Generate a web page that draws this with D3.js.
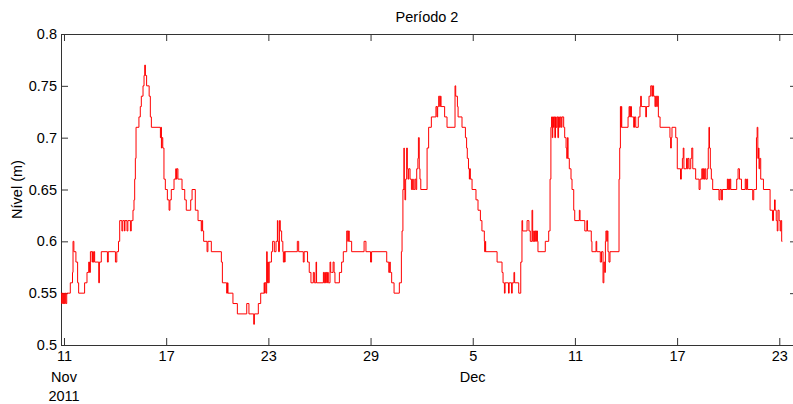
<!DOCTYPE html>
<html>
<head>
<meta charset="utf-8">
<script src="https://cdn.jsdelivr.net/npm/d3@7"></script>
<style>
  body { margin: 0; background: #fff; }
  svg { display: block; font-family: "Liberation Sans", Arial, sans-serif; }
  .axis { font-family: "Liberation Sans", Arial, sans-serif; }
  .axis path, .axis line { stroke: #333; }
  .axis text { fill: #000; font-size: 14.5px; }
</style>
</head>
<body>
<div id="chart"></div>
<script>
// day offset from 11 Nov 2011 00:00 and water level (m)
var startDate = new Date(2011, 10, 11);
var dayOffset = [
  -0.18, -0.14, -0.10, -0.06, -0.02, 0.02, 0.06, 0.10, 0.16, 0.37, 0.50, 0.53, 0.58, 0.70, 0.80, 0.86,
  1.21, 1.35, 1.45, 1.50, 1.55, 1.65, 1.68, 1.72, 1.76, 1.80, 2.04, 2.08, 2.19, 2.55, 2.60, 3.02, 3.10,
  3.20, 3.27, 3.40, 3.45, 3.55, 3.58, 3.70, 3.75, 3.90, 3.95, 4.05, 4.11, 4.15, 4.19, 4.23, 4.40, 4.48,
  4.54, 4.64, 4.70, 4.74, 4.78, 4.85, 5.00, 5.07, 5.13, 5.66, 5.70, 5.72, 5.75, 5.80, 5.87, 5.95, 6.07,
  6.17, 6.22, 6.30, 6.46, 6.56, 6.60, 6.63, 6.69, 6.93, 7.09, 7.18, 7.44, 7.52, 7.71, 7.87, 8.06, 8.10,
  8.14, 8.20, 8.40, 8.45, 8.65, 9.24, 9.30, 9.55, 9.60, 9.63, 9.92, 10.18,
  10.73, 10.86, 11.14, 11.18, 11.41, 11.55, 11.75, 11.78, 11.80, 11.86, 11.90, 11.93, 11.96, 12.00, 12.05,
  12.18, 12.25, 12.35, 12.45, 12.53, 12.56, 12.60, 12.65, 12.70, 12.78, 12.85, 12.88, 12.93, 12.96, 12.98,
  13.70, 13.78, 14.05, 14.10, 14.30, 14.40, 14.50, 14.64, 14.70, 14.80, 14.83, 15.23, 15.27, 15.31, 15.35,
  15.39, 15.43, 15.47, 15.52, 15.62, 15.66, 15.71, 15.80, 15.86, 15.91, 16.17, 16.30, 16.40, 16.60, 16.66,
  16.70, 16.75, 16.89, 17.62, 17.73, 18.00, 18.06, 18.95, 19.07, 19.12, 19.16, 19.24, 19.38, 19.69, 19.81,
  19.85, 19.90, 19.96, 19.98, 20.02, 20.06, 20.12, 20.16, 20.20, 20.24, 20.32, 20.40, 20.47, 20.51, 20.60,
  20.66, 20.71, 20.78, 20.81, 20.86, 20.90, 20.95,
  21.32, 21.41, 21.57, 21.84, 21.90, 21.94, 22.00, 22.06, 22.10, 22.14, 22.35, 22.49, 22.96, 23.00, 23.10,
  23.14, 23.37, 23.57, 23.64, 23.68, 23.75, 23.80, 23.82, 23.86, 23.96, 24.19, 24.31, 24.45, 24.54, 24.68,
  24.70, 24.74, 24.76, 25.43, 25.72, 25.78, 25.86, 25.90, 26.10, 26.14, 26.28, 26.32, 26.42, 26.46, 26.70,
  26.82, 26.89, 26.93, 27.19, 27.30, 27.38, 27.48, 27.52, 27.58, 27.62, 27.66, 27.70, 27.74, 27.80, 27.83,
  28.26, 28.46, 28.54, 28.59, 28.63, 28.67, 28.70, 28.74, 28.78, 28.82, 28.86, 28.90, 28.95, 29.00, 29.04,
  29.09, 29.14, 29.20, 29.24, 29.34, 29.40, 29.48, 29.52, 29.56, 29.60, 29.67, 29.77, 29.83, 29.93, 29.99,
  30.26, 30.30, 30.58, 30.70, 30.74, 30.96, 31.00, 31.24, 31.28, 31.49, 31.56, 31.65, 31.70,
  31.75, 31.79, 31.82, 31.87, 31.90, 31.94, 32.00, 32.06, 32.59, 32.63, 32.67, 32.70, 32.72, 32.75, 33.12,
  33.18, 33.22, 33.26, 33.32, 33.45, 33.50, 33.57, 33.72, 33.82, 33.86, 33.90, 34.16, 34.20, 34.35, 34.45,
  34.52, 34.56, 34.62, 34.70, 34.74, 34.80, 34.84, 34.90, 35.00, 35.58, 35.62, 35.66, 35.70, 35.92, 36.01,
  36.20, 36.25, 36.31, 36.36, 36.40, 36.55, 36.60, 36.64, 36.70, 36.80, 36.86, 36.92, 37.09, 37.29, 37.35,
  37.45, 37.50, 37.54, 37.58, 37.62, 37.68, 37.77, 37.83, 37.87, 37.90, 37.95, 38.01, 38.09, 38.46, 38.52,
  38.60, 38.66, 38.95, 38.99, 39.03, 39.07, 39.11, 39.15, 39.50, 39.58, 39.66, 39.78, 40.00, 40.05, 40.09,
  40.14, 40.44, 40.50, 40.66, 40.70, 40.74, 40.78, 40.81, 40.85, 40.91, 41.07, 41.46, 41.60, 41.66, 41.72,
  41.76, 41.82, 41.88, 41.92, 41.99, 42.05, 42.09, 42.14, 42.18
];
var nivel = [
  0.55, 0.54, 0.55, 0.54, 0.55, 0.54, 0.55, 0.54, 0.55, 0.56, 0.57, 0.60, 0.59, 0.58, 0.56, 0.55,
  0.56, 0.57, 0.58, 0.57, 0.59, 0.58, 0.59, 0.58, 0.59, 0.58, 0.56, 0.58, 0.59, 0.58, 0.59, 0.58, 0.59,
  0.60, 0.62, 0.61, 0.62, 0.61, 0.62, 0.61, 0.62, 0.61, 0.62, 0.63, 0.64, 0.66, 0.68, 0.71, 0.72, 0.73,
  0.74, 0.75, 0.76, 0.77, 0.76, 0.75, 0.74, 0.72, 0.71, 0.70, 0.71, 0.69, 0.70, 0.69, 0.66, 0.65, 0.64,
  0.63, 0.64, 0.65, 0.66, 0.67, 0.66, 0.67, 0.66, 0.65, 0.64, 0.63, 0.64, 0.65, 0.63, 0.62, 0.61, 0.62,
  0.61, 0.60, 0.59, 0.60, 0.59, 0.58, 0.56, 0.55, 0.56, 0.55, 0.54, 0.53,
  0.54, 0.53, 0.52, 0.53, 0.54, 0.55, 0.56, 0.55, 0.56, 0.55, 0.59, 0.56, 0.58, 0.56, 0.58,
  0.59, 0.60, 0.59, 0.60, 0.62, 0.60, 0.59, 0.62, 0.61, 0.60, 0.59, 0.58, 0.59, 0.58, 0.59,
  0.60, 0.59, 0.58, 0.59, 0.58, 0.57, 0.56, 0.57, 0.56, 0.58, 0.56, 0.57, 0.56, 0.57, 0.56,
  0.57, 0.56, 0.57, 0.56, 0.58, 0.57, 0.57, 0.58, 0.57, 0.56, 0.57, 0.58, 0.59, 0.61, 0.60,
  0.61, 0.60, 0.59, 0.60, 0.59, 0.58, 0.59, 0.58, 0.57, 0.58, 0.57, 0.56, 0.55, 0.56, 0.59,
  0.61, 0.65, 0.69, 0.65, 0.64, 0.66, 0.69, 0.67, 0.66, 0.67, 0.66, 0.65, 0.66, 0.65, 0.66,
  0.65, 0.67, 0.68, 0.70, 0.67, 0.66, 0.65,
  0.69, 0.71, 0.72, 0.73, 0.72, 0.73, 0.74, 0.73, 0.74, 0.73, 0.72, 0.71, 0.75, 0.74, 0.73,
  0.72, 0.71, 0.70, 0.69, 0.68, 0.67, 0.66, 0.67, 0.66, 0.65, 0.64, 0.63, 0.62, 0.61, 0.60,
  0.59, 0.60, 0.59, 0.58, 0.57, 0.56, 0.55, 0.56, 0.55, 0.56, 0.55, 0.56, 0.57, 0.56, 0.55,
  0.58, 0.62, 0.61, 0.62, 0.61, 0.60, 0.63, 0.60, 0.61, 0.60, 0.61, 0.60, 0.61, 0.60, 0.59,
  0.60, 0.61, 0.66, 0.71, 0.72, 0.70, 0.72, 0.71, 0.72, 0.70, 0.72, 0.71, 0.72, 0.70, 0.72,
  0.71, 0.72, 0.71, 0.72, 0.71, 0.70, 0.69, 0.68, 0.70, 0.68, 0.67, 0.66, 0.65, 0.63, 0.62,
  0.63, 0.62, 0.61, 0.62, 0.61, 0.60, 0.59, 0.60, 0.59, 0.58, 0.59, 0.56, 0.58,
  0.57, 0.60, 0.61, 0.60, 0.61, 0.59, 0.58, 0.59, 0.66, 0.69, 0.73, 0.71, 0.73, 0.71, 0.72,
  0.73, 0.72, 0.73, 0.72, 0.71, 0.72, 0.71, 0.72, 0.73, 0.74, 0.73, 0.72, 0.73, 0.74, 0.75,
  0.74, 0.75, 0.74, 0.73, 0.74, 0.73, 0.74, 0.72, 0.71, 0.70, 0.69, 0.70, 0.71, 0.70, 0.67,
  0.66, 0.67, 0.68, 0.69, 0.67, 0.68, 0.67, 0.68, 0.67, 0.68, 0.69, 0.67, 0.66, 0.65, 0.66,
  0.67, 0.66, 0.67, 0.66, 0.67, 0.66, 0.67, 0.69, 0.71, 0.69, 0.67, 0.66, 0.65, 0.64, 0.65,
  0.64, 0.65, 0.66, 0.65, 0.66, 0.65, 0.66, 0.65, 0.66, 0.67, 0.66, 0.65, 0.66, 0.65, 0.66,
  0.65, 0.64, 0.65, 0.70, 0.71, 0.68, 0.69, 0.67, 0.68, 0.66, 0.65, 0.63, 0.62, 0.63, 0.64,
  0.63, 0.62, 0.61, 0.63, 0.62, 0.61, 0.62, 0.60, 0.60
];
var xDomainDays = [-0.176, 43.04];
var yTicks = [0.5, 0.55, 0.6, 0.65, 0.7, 0.75, 0.8];
var tickDays = [0, 6, 12, 18, 24, 30, 36, 42];
var tickLabels = ["11", "17", "23", "29", "5", "11", "17", "23"];
var monthLabels = [{day: 0, text: "Nov"}, {day: 24, text: "Dec"}];
var yearLabel = {day: 0, text: "2011"};

var width = 793, height = 404,
    plotLeft = 61, plotRight = 797, plotTop = 34, plotBottom = 345,
    tickLen = 7, fontSize = 14.5;

function toDate(d) { return new Date(startDate.getTime() + d * 864e5); }

var data = dayOffset.map(function (d, i) { return {t: toDate(d), v: nivel[i]}; });

var svg = d3.select("#chart").append("svg")
    .attr("width", width)
    .attr("height", height);

var x = d3.scaleTime()
    .domain(xDomainDays.map(toDate))
    .range([plotLeft, plotRight]);
var y = d3.scaleLinear()
    .domain([0.5, 0.8])
    .range([plotBottom, plotTop]);

var tickDates = tickDays.map(toDate);

// bottom axis with day numbers
svg.append("g")
    .attr("class", "axis")
    .attr("transform", "translate(0," + plotBottom + ")")
    .call(d3.axisBottom(x).tickValues(tickDates).tickSize(-tickLen).tickSizeOuter(0).tickPadding(6)
        .tickFormat(function (d, i) { return tickLabels[i]; }));
// top axis, ticks only
svg.append("g")
    .attr("class", "axis")
    .attr("transform", "translate(0," + plotTop + ")")
    .call(d3.axisTop(x).tickValues(tickDates).tickSize(-tickLen).tickSizeOuter(0).tickFormat(""));
// left axis
svg.append("g")
    .attr("class", "axis")
    .attr("transform", "translate(" + plotLeft + ",0)")
    .call(d3.axisLeft(y).tickValues(yTicks).tickSize(-tickLen).tickSizeOuter(0).tickPadding(4)
        .tickFormat(function (d) { return String(+d.toFixed(2)); }));
// right axis, ticks only
svg.append("g")
    .attr("class", "axis")
    .attr("transform", "translate(" + plotRight + ",0)")
    .call(d3.axisRight(y).tickValues(yTicks).tickSize(-tickLen).tickSizeOuter(0).tickFormat(""));

// month and year lines under the ticks
svg.selectAll(".month")
    .data(monthLabels)
    .enter()
    .append("text")
    .attr("x", function (d) { return x(toDate(d.day)); })
    .attr("y", 382)
    .attr("text-anchor", "middle")
    .attr("font-size", fontSize)
    .text(function (d) { return d.text; });
svg.append("text")
    .attr("x", x(toDate(yearLabel.day)))
    .attr("y", 401)
    .attr("text-anchor", "middle")
    .attr("font-size", fontSize)
    .text(yearLabel.text);

// series
svg.append("path")
    .datum(data)
    .attr("fill", "none")
    .attr("stroke", "#ff0000")
    .attr("stroke-width", 1)
    .attr("d", d3.line()
        .curve(d3.curveStepAfter)
        .x(function (d) { return x(d.t); })
        .y(function (d) { return y(d.v); }));

// title and y label
svg.append("text")
    .attr("x", (plotLeft + plotRight) / 2 - 2)
    .attr("y", 22)
    .attr("text-anchor", "middle")
    .attr("font-size", fontSize)
    .text("Período 2");
svg.append("text")
    .attr("transform", "translate(22," + (plotTop + plotBottom) / 2 + ") rotate(-90)")
    .attr("text-anchor", "middle")
    .attr("font-size", fontSize)
    .text("Nível (m)");
</script>
</body>
</html>
